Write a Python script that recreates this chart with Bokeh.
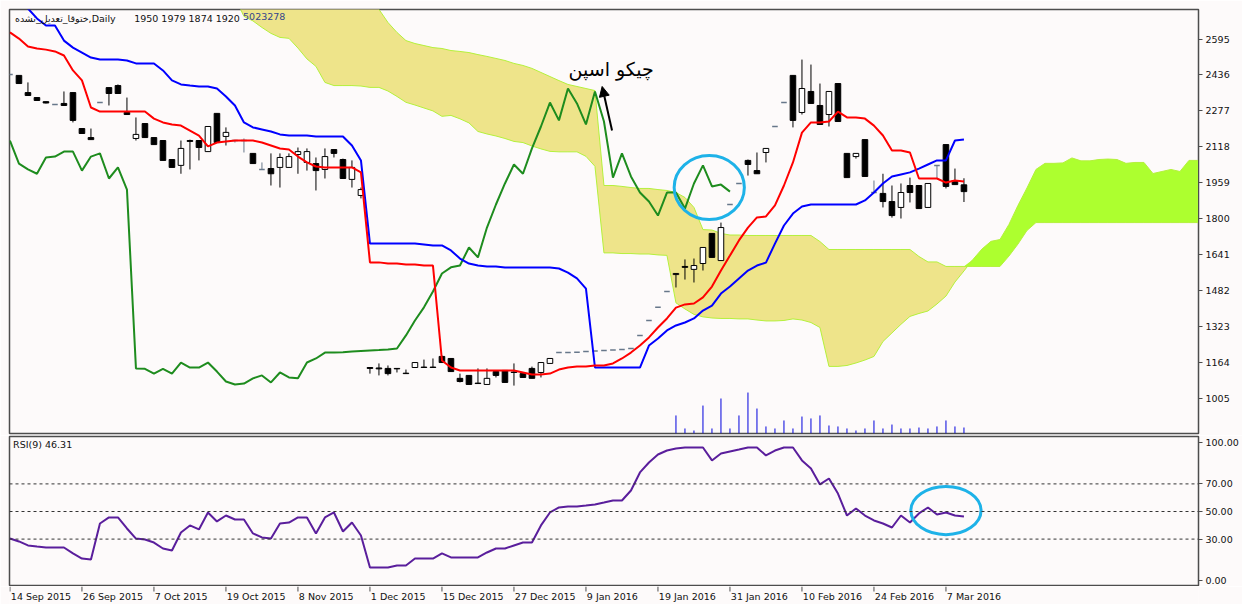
from bokeh.plotting import figure
from bokeh.models import Range1d, FixedTicker, Label, Span, Arrow, NormalHead
from bokeh.layouts import column
from bokeh.embed import file_html
from bokeh.resources import INLINE
from bokeh.core.properties import value

# ---------------- data ----------------
symbol = "ختوقا_تعدیل_نشده,Daily"
ohlc_text = "1950 1979 1874 1920"
vol_text = "5023278"
note_text = "چیکو اسپن"

date_labels = ["14 Sep 2015", "26 Sep 2015", "7 Oct 2015", "19 Oct 2015", "8 Nov 2015",
               "1 Dec 2015", "15 Dec 2015", "27 Dec 2015", "9 Jan 2016", "19 Jan 2016",
               "31 Jan 2016", "10 Feb 2016", "24 Feb 2016", "7 Mar 2016"]
date_bars = [0, 8, 16, 24, 32, 40, 48, 56, 64, 72, 80, 88, 96, 104]

price_ticks = [1005, 1164, 1323, 1482, 1641, 1800, 1959, 2118, 2277, 2436, 2595]
rsi_ticks = [0, 30, 50, 70, 100]

open_ = [2438, 2434, 2358, 2336, 2318, 2305, 2310, 2358, 2199, 2159,
         2314, 2380, 2389, 2270, 2155, 2221, 2159, 2146, 2062, 2036,
         2146, 2146, 2097, 2266, 2164, 2146, 2146, 2089, 2018, 2022,
         2027, 2027, 2084, 2049, 2044, 2018, 2106, 2062, 1974, 1903,
         1142, 1140, 1138, 1138, 1117, 1142, 1144, 1144, 1191, 1182,
         1094, 1107, 1073, 1067, 1124, 1129, 1122, 1115, 1138, 1120,
         1160, 1208, 1208, 1210, 1213, 1215, 1217, 1219, 1222, 1226,
         1284, 1350, 1408, 1478, 1553, 1589, 1576, 1602, 1735, 1615,
         1863, 1956, 2058, 2013, 2093, 2208, 2314, 2434, 2270, 2363,
         2301, 2261, 2398, 2089, 2075, 2150, 1916, 1912, 1876, 1850,
         1947, 1947, 1850, 2036, 2128, 1969, 1950]
high = [2438, 2434, 2403, 2336, 2318, 2305, 2363, 2358, 2199, 2199,
        2314, 2380, 2394, 2336, 2248, 2221, 2159, 2146, 2062, 2146,
        2150, 2146, 2208, 2266, 2204, 2146, 2155, 2089, 2049, 2089,
        2089, 2089, 2115, 2111, 2071, 2111, 2106, 2066, 2058, 1938,
        1142, 1160, 1151, 1138, 1133, 1164, 1177, 1182, 1195, 1182,
        1115, 1107, 1138, 1138, 1124, 1129, 1160, 1115, 1146, 1164,
        1182, 1208, 1208, 1210, 1213, 1215, 1217, 1219, 1222, 1226,
        1284, 1350, 1408, 1478, 1558, 1620, 1624, 1673, 1735, 1783,
        1863, 1956, 2062, 2093, 2111, 2208, 2314, 2434, 2504, 2482,
        2398, 2363, 2398, 2089, 2089, 2150, 1969, 1999, 1947, 1956,
        1982, 1947, 1956, 2036, 2128, 2022, 1979]
low = [2438, 2398, 2345, 2323, 2310, 2305, 2301, 2226, 2177, 2150,
       2314, 2301, 2354, 2261, 2146, 2159, 2128, 2058, 2027, 1999,
       2018, 2058, 2097, 2137, 2124, 2137, 2093, 2044, 2018, 1947,
       1938, 2027, 1999, 2013, 1925, 1978, 2071, 1978, 1938, 1890,
       1115, 1107, 1107, 1120, 1115, 1142, 1142, 1142, 1164, 1124,
       1076, 1067, 1071, 1067, 1098, 1076, 1062, 1098, 1094, 1098,
       1160, 1208, 1208, 1210, 1213, 1215, 1217, 1219, 1222, 1226,
       1284, 1350, 1408, 1478, 1496, 1531, 1518, 1571, 1629, 1615,
       1863, 1956, 1991, 1999, 2049, 2208, 2314, 2204, 2261, 2310,
       2217, 2208, 2230, 1982, 2066, 1987, 1916, 1850, 1805, 1801,
       1872, 1845, 1850, 1978, 1934, 1951, 1874]
close = [2438, 2398, 2345, 2323, 2312, 2305, 2301, 2235, 2177, 2150,
         2314, 2354, 2354, 2261, 2173, 2159, 2128, 2058, 2027, 2111,
         2142, 2115, 2208, 2137, 2182, 2146, 2146, 2044, 2018, 1999,
         2071, 2075, 2097, 2097, 2013, 2075, 2089, 1978, 2027, 1929,
         1138, 1136, 1115, 1136, 1115, 1164, 1142, 1142, 1164, 1124,
         1080, 1067, 1071, 1094, 1107, 1076, 1120, 1098, 1094, 1164,
         1182, 1208, 1208, 1210, 1213, 1215, 1217, 1219, 1222, 1226,
         1284, 1350, 1408, 1478, 1558, 1585, 1593, 1673, 1629, 1761,
         1863, 1956, 2040, 1999, 2111, 2208, 2314, 2235, 2376, 2310,
         2217, 2363, 2230, 1982, 2089, 1987, 1916, 1876, 1814, 1916,
         1916, 1845, 1956, 2036, 1943, 1951, 1920]

tenkan = [2624, 2597, 2562, 2553, 2548, 2540, 2522, 2456, 2412, 2292,
          2274, 2274, 2274, 2274, 2274, 2274, 2243, 2226, 2217, 2212,
          2190, 2168, 2120, 2137, 2142, 2146, 2146, 2146, 2137, 2124,
          2111, 2106, 2075, 2049, 2031, 2027, 2027, 2027, 2027, 2005,
          1607, 1607, 1602, 1602, 1598, 1598, 1593, 1593, 1173, 1142,
          1129, 1129, 1129, 1129, 1129, 1129, 1129, 1120, 1111, 1111,
          1115, 1133, 1142, 1146, 1146, 1151, 1151, 1160, 1182, 1208,
          1239, 1275, 1319, 1359, 1407, 1421, 1425, 1452, 1500, 1571,
          1637, 1704, 1761, 1806, 1810, 1859, 1947, 2049, 2181, 2226,
          2226, 2230, 2274, 2248, 2248, 2243, 2212, 2168, 2102, 2102,
          2093, 1978, 1978, 1978, 1960, 1969, 1965]
kijun = [2765, 2752, 2730, 2686, 2655, 2655, 2588, 2557, 2535, 2513,
         2504, 2504, 2504, 2500, 2487, 2487, 2487, 2456, 2412, 2394,
         2389, 2385, 2385, 2376, 2341, 2301, 2226, 2204, 2195, 2186,
         2173, 2168, 2168, 2168, 2164, 2164, 2164, 2164, 2124, 2058,
         1690, 1690, 1690, 1690, 1690, 1690, 1686, 1682, 1682, 1660,
         1624, 1602, 1593, 1589, 1589, 1584, 1584, 1584, 1584, 1584,
         1584, 1580, 1562, 1536, 1491, 1142, 1142, 1142, 1142, 1142,
         1142, 1239, 1270, 1306, 1328, 1341, 1359, 1394, 1416, 1469,
         1500, 1536, 1571, 1593, 1606, 1690, 1770, 1823, 1854, 1863,
         1863, 1863, 1863, 1863, 1863, 1881, 1916, 1956, 1987, 1996,
         2005, 2022, 2040, 2058, 2058, 2146, 2150]

# Senkou spans, bars 0..132 (26 bars beyond the last candle)
span_a = [2780] * 26 + [
    2695, 2675, 2646, 2620, 2602, 2598, 2555, 2507, 2474, 2403,
    2389, 2389, 2389, 2387, 2381, 2381, 2365, 2341, 2315, 2303,
    2290, 2277, 2253, 2257, 2242, 2224, 2186, 2175, 2166, 2155,
    2142, 2137, 2122, 2109, 2098, 2096, 2096, 2096, 2076, 2032,
    1649, 1649, 1646, 1646, 1644, 1644, 1640, 1638, 1428, 1401,
    1377, 1366, 1361, 1359, 1359, 1357, 1357, 1352, 1348, 1348,
    1350, 1357, 1352, 1341, 1319, 1147, 1147, 1151, 1162, 1175,
    1191, 1257, 1295, 1333, 1368, 1381, 1392, 1423, 1458, 1520,
    1569, 1620, 1666, 1700, 1708, 1775, 1859, 1936, 2018, 2045,
    2045, 2047, 2069, 2056, 2056, 2062, 2064, 2062, 2045, 2049,
    2049, 2000, 2009, 2018, 2009, 2058, 2058]
span_b = [2800] * 41 + [
    2726, 2668, 2624, 2588, 2575, 2566, 2557, 2553, 2544, 2540,
    2535, 2526, 2518, 2509, 2500, 2487, 2478, 2465, 2447, 2429,
    2411, 2394, 2385, 2376, 2367,
    1947, 1947, 1943, 1938, 1934, 1934, 1929, 1925, 1916, 1894,
    1850, 1752, 1750, 1735, 1728, 1728] + [1726] * 8 + [1699] + [1664] * 10 + [
    1633, 1609, 1609] + [1589] * 7 + [1635, 1688, 1748] + [1783] * 19

rsi = [30.4, 28.3, 25.4, 24.6, 23.9, 23.9, 23.9, 19.6, 15.9, 15.2,
       41.3, 45.7, 45.7, 37.7, 30.4, 29.7, 27.5, 23.2, 21.7, 34.8,
       39.9, 37.0, 49.3, 42.8, 47.1, 44.2, 44.2, 34.1, 31.2, 30.4,
       41.3, 42.0, 45.7, 45.7, 34.1, 45.7, 49.3, 35.5, 42.0, 32.6,
       9.4, 9.4, 9.4, 10.9, 10.9, 15.9, 15.9, 15.9, 19.6, 16.7,
       16.7, 16.7, 16.7, 20.3, 23.2, 23.2, 25.4, 27.5, 27.5, 39.9,
       49.3, 52.9, 53.6, 53.6, 54.3, 55.1, 56.5, 58.0, 58.0, 65.2,
       78.3, 85.5, 91.3, 94.2, 95.7, 96.4, 96.4, 96.4, 87.0, 92.0,
       93.5, 94.9, 96.4, 96.4, 90.6, 94.2, 96.4, 96.4, 87.0, 81.2,
       69.6, 73.9, 63.0, 47.1, 52.2, 47.1, 43.5, 41.3, 38.4, 47.1,
       42.0, 48.6, 52.9, 47.8, 49.3, 47.1, 46.31]

vol_start = 74
volume = [15.1e6, 4.2e6, 2.5e6, 23.4e6, 4.2e6, 29.3e6, 4.2e6, 15.1e6, 34.3e6, 20.9e6,
          5.9e6, 4.2e6, 10.9e6, 4.2e6, 14.2e6, 12.6e6, 15.1e6, 6.7e6, 5.9e6, 4.2e6,
          2.5e6, 4.2e6, 10.9e6, 4.2e6, 7.5e6, 4.2e6, 4.2e6, 5.0e6, 4.2e6, 5.9e6,
          10.9e6, 5.9e6, 5023278]

# ---------------- styling ----------------
BG = "#FDFAFA"
FONT = "DejaVu Sans"
FS = "9.5px"
BORDER = "#4d4d4d"
LEFT, RIGHT = 9, 44

n = len(close)
xr = Range1d(-0.05, 132.06)

p = figure(frame_width=1189, frame_height=424, x_range=xr, y_range=Range1d(850.1, 2725.5),
           output_backend="svg", toolbar_location=None, x_axis_location=None,
           y_axis_location="right", min_border_left=LEFT, min_border_right=RIGHT,
           min_border_top=9, min_border_bottom=2,
           background_fill_color=BG, border_fill_color=BG)
p.grid.visible = False
p.outline_line_color = BORDER
p.outline_line_width = 1.5
ya = p.yaxis[0]
ya.ticker = FixedTicker(ticks=price_ticks)
ya.major_tick_out = 4
ya.major_tick_in = 0
ya.minor_tick_line_color = None
ya.axis_line_color = BORDER
ya.major_tick_line_color = BORDER
ya.major_label_standoff = 3
ya.major_label_text_font = FONT
ya.major_label_text_font_size = FS
ya.major_label_text_color = "#111111"

# cloud
cx = list(range(len(span_a)))
top = [max(a, b) for a, b in zip(span_a, span_b)]
p.varea(x=cx, y1=span_a, y2=top, fill_color="#EEE48A")
p.varea(x=cx, y1=span_b, y2=top, fill_color="#ADFF2F")
p.line(cx, span_a, line_color="#B4F03C", line_width=1)
p.line(cx, span_b, line_color="#B4F03C", line_width=1)

# volume
p.extra_y_ranges = {"vol": Range1d(0, 355e6)}
vx = list(range(vol_start, vol_start + len(volume)))
p.segment(x0=vx, y0=[0] * len(vx), x1=vx, y1=volume, y_range_name="vol",
          line_color="#0000DD", line_width=1)

# candles
bw = 0.62
moving = [i for i in range(n) if open_[i] != close[i]]
bull = [i for i in range(n) if close[i] > open_[i]]
bear = [i for i in range(n) if close[i] < open_[i]]
flat = [i for i in range(n) if close[i] == open_[i]]
p.segment(x0=moving, y0=[low[i] for i in moving], x1=moving, y1=[high[i] for i in moving],
          line_color="black", line_width=1)
p.vbar(x=bull, width=bw, top=[close[i] for i in bull], bottom=[open_[i] for i in bull],
       fill_color="white", line_color="black", line_width=1)
p.vbar(x=bear, width=bw, top=[open_[i] for i in bear], bottom=[close[i] for i in bear],
       fill_color="black", line_color="black", line_width=1)
p.segment(x0=flat, y0=[low[i] for i in flat], x1=flat, y1=[high[i] for i in flat],
          line_color="#67778A", line_width=1)
p.segment(x0=[i - bw / 2 for i in flat], y0=[close[i] for i in flat],
          x1=[i + bw / 2 for i in flat], y1=[close[i] for i in flat],
          line_color="#67778A", line_width=1.5)

# ichimoku lines
chik_x = list(range(n - 26))
chik_y = close[26:]
p.line(chik_x, chik_y, line_color="#1E8C1E", line_width=2)
p.line(list(range(n)), kijun, line_color="#0000FF", line_width=2)
p.line(list(range(n)), tenkan, line_color="#FF0000", line_width=2)

# annotations
p.ellipse(x=[77.7], y=[1938], width=7.8, height=283, fill_color=None,
          line_color="#1EB2E8", line_width=3)
p.add_layout(Arrow(end=NormalHead(size=10, fill_color="black", line_color="black"),
                   x_start=66.9, y_start=2190, x_end=65.8, y_end=2385,
                   line_color="black", line_width=2))
p.add_layout(Label(x=66.8, y=2462, text=note_text, text_align="center", text_baseline="middle",
                   text_font=FONT, text_font_size="19px", text_color="black"))
p.add_layout(Label(x=0.55, y=2712, text=symbol, text_align="left", text_baseline="top",
                   text_font=FONT, text_font_size=FS, text_color="#111111"))
p.add_layout(Label(x=13.8, y=2712, text=ohlc_text, text_align="left", text_baseline="top",
                   text_font=FONT, text_font_size=FS, text_color="#111111"))
p.add_layout(Label(x=25.9, y=2712, text=vol_text, text_align="left", text_baseline="top",
                   text_font=FONT, text_font_size=FS, text_color="#34458A"))

# ---------------- RSI panel ----------------
r = figure(frame_width=1189, frame_height=150, x_range=xr, y_range=Range1d(-4.35, 104.35),
           output_backend="svg", toolbar_location=None, x_axis_location=None,
           y_axis_location="right", min_border_left=LEFT, min_border_right=RIGHT,
           min_border_top=1, min_border_bottom=0,
           background_fill_color=BG, border_fill_color=BG)
r.grid.visible = False
r.outline_line_color = BORDER
r.outline_line_width = 1.5
ry = r.yaxis[0]
ry.ticker = FixedTicker(ticks=rsi_ticks)
ry.major_label_overrides = {t: "%.2f" % t for t in rsi_ticks}
ry.major_tick_out = 4
ry.major_tick_in = 0
ry.minor_tick_line_color = None
ry.axis_line_color = BORDER
ry.major_tick_line_color = BORDER
ry.major_label_standoff = 3
ry.major_label_text_font = FONT
ry.major_label_text_font_size = FS
ry.major_label_text_color = "#111111"

for lvl in (30, 50, 70):
    r.add_layout(Span(location=lvl, dimension="width", line_color="#333333",
                      line_dash="3 3", line_width=1))
r.line(list(range(n)), rsi, line_color="#5A1E9C", line_width=2)
r.ellipse(x=[104], y=[50.7], width=7.8, height=35, fill_color=None,
          line_color="#1EB2E8", line_width=3)
r.add_layout(Label(x=0.35, y=102.3, text="RSI(9) %.2f" % rsi[-1], text_align="left",
                   text_baseline="top", text_font=FONT, text_font_size=FS, text_color="#111111"))

# ---------------- date strip (tick marks + date labels) ----------------
d = figure(frame_width=1189, frame_height=18, x_range=xr, y_range=Range1d(0, 18),
           output_backend="svg", toolbar_location=None, x_axis_location=None,
           y_axis_location=None, min_border_left=LEFT, min_border_right=RIGHT,
           min_border_top=0, min_border_bottom=0,
           background_fill_color=BG, border_fill_color=BG)
d.grid.visible = False
d.outline_line_color = None
d.segment(x0=date_bars, y0=[18] * len(date_bars), x1=date_bars, y1=[13] * len(date_bars),
          line_color=BORDER, line_width=1)
d.text(x=[b + 0.1 for b in date_bars], y=[13.5] * len(date_bars), text=date_labels,
       text_align="left", text_baseline="top", text_font=value(FONT),
       text_font_size=FS, text_color="#111111")

layout = column(p, r, d, spacing=0)
open("out.html", "w").write(file_html(layout, INLINE))
